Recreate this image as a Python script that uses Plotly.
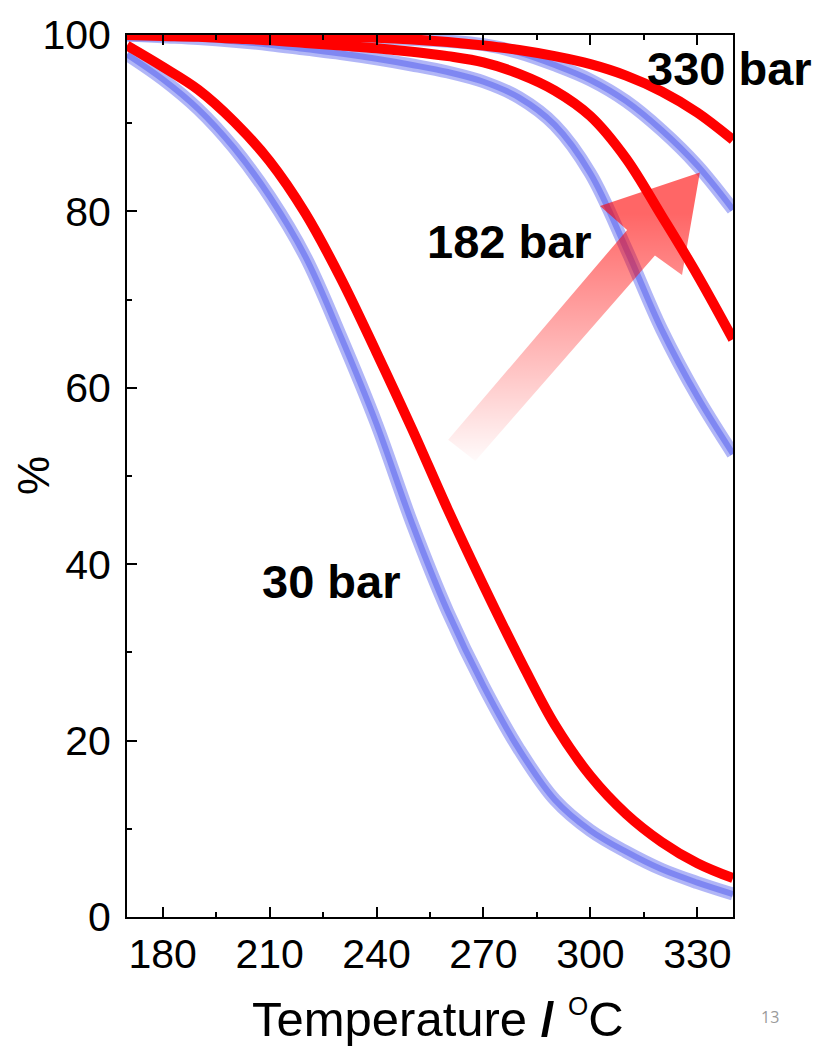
import plotly.graph_objects as go

# ---------------- data ----------------
T_GRID = [170, 180, 190, 200, 210, 220, 230, 240, 250, 260, 270, 280, 290, 300, 310, 320, 330, 340]

V_RED_30 = [98.8, 96.4, 93.8, 90.2, 85.7, 79.8, 72.4, 64.0, 55.3, 46.2, 37.6, 29.4, 21.8, 16.0, 11.7, 8.5, 6.1, 4.4]
V_BLUE_30 = [97.8, 95.0, 91.6, 87.2, 81.7, 74.9, 65.8, 55.9, 44.6, 34.6, 26.2, 19.0, 13.3, 9.8, 7.4, 5.4, 3.9, 2.6]

V_RED_182 = [100, 99.9, 99.8, 99.6, 99.4, 99.1, 98.8, 98.5, 98.1, 97.6, 96.9, 95.6, 93.7, 90.8, 86.0, 79.5, 72.8, 65.5]
V_BLUE_182 = [100, 99.8, 99.6, 99.3, 98.9, 98.4, 97.9, 97.3, 96.6, 95.8, 94.7, 92.9, 89.8, 84.3, 75.8, 66.6, 59.0, 52.5]

V_RED_330 = [100, 100, 100, 100, 99.95, 99.9, 99.8, 99.7, 99.5, 99.2, 98.8, 98.3, 97.6, 96.7, 95.4, 93.6, 91.2, 88.1]
V_BLUE_330 = [100, 100, 100, 99.9, 99.85, 99.8, 99.7, 99.6, 99.5, 99.3, 98.9, 98.0, 96.6, 94.9, 92.5, 89.2, 85.2, 80.2]

X_TICKS = [180, 210, 240, 270, 300, 330]
Y_TICKS = [0, 20, 40, 60, 80, 100]

LABELS = ["30 bar", "182 bar", "330 bar"]
LABEL_T = [227.3, 277.2, 338.9]
LABEL_V = [38.0, 76.6, 96.2]

# arrow outline (data coordinates): tail -> shaft -> head -> back
ARROW_T = [260.1, 267.7, 318.1, 325.7, 330.7, 302.7, 310.3, 260.1]
ARROW_V = [54.1, 51.7, 75.0, 72.8, 84.4, 80.6, 77.9, 54.1]

FONT = "Liberation Sans, Arial, sans-serif"

fig = go.Figure()

blue_sets = [V_BLUE_30, V_BLUE_182, V_BLUE_330]
red_sets = [V_RED_30, V_RED_182, V_RED_330]

for v in blue_sets:
    fig.add_trace(go.Scatter(x=T_GRID, y=v, mode="lines",
                             line=dict(color="rgba(100,110,240,0.5)", width=13, shape="spline", smoothing=1.0),
                             hoverinfo="skip", showlegend=False, cliponaxis=False))
    fig.add_trace(go.Scatter(x=T_GRID, y=v, mode="lines",
                             line=dict(color="rgba(100,110,240,0.65)", width=6, shape="spline", smoothing=1.0),
                             hoverinfo="skip", showlegend=False, cliponaxis=False))

for v in red_sets:
    fig.add_trace(go.Scatter(x=T_GRID, y=v, mode="lines",
                             line=dict(color="#ff0000", width=10, shape="spline", smoothing=1.0),
                             hoverinfo="skip", showlegend=False, cliponaxis=False))

# gradient arrow
fig.add_trace(go.Scatter(x=ARROW_T, y=ARROW_V, mode="lines", fill="toself",
                         line=dict(width=0, color="rgba(0,0,0,0)"),
                         fillgradient=dict(type="vertical",
                                           colorscale=[[0, "rgba(255,0,0,0)"], [1, "rgba(255,0,0,0.6)"]],
                                           start=51.5, stop=80),
                         hoverinfo="skip", showlegend=False))

annotations = []
for txt, t, v in zip(LABELS, LABEL_T, LABEL_V):
    annotations.append(dict(x=t, y=v, xref="x", yref="y", text="<b>%s</b>" % txt, showarrow=False,
                            font=dict(family=FONT, size=47, color="black"),
                            xanchor="center", yanchor="middle"))

# axis titles
annotations.append(dict(x=0.5, y=0, xref="paper", yref="paper", xshift=8, yshift=-101,
                        text='Temperature <b>/</b> <sup><span style="font-size:26px">O</span></sup>C',
                        showarrow=False, font=dict(family=FONT, size=49, color="black"),
                        xanchor="center", yanchor="middle"))
annotations.append(dict(x=0, y=0.5, xref="paper", yref="paper", xshift=-94,
                        text="%", textangle=-90, showarrow=False,
                        font=dict(family=FONT, size=44, color="black"),
                        xanchor="center", yanchor="middle"))
# page number
annotations.append(dict(x=1, y=0, xref="paper", yref="paper", xshift=37, yshift=-100,
                        text="13", showarrow=False,
                        font=dict(family="Liberation Sans Narrow, Open Sans, sans-serif", size=16, color="#9a9a9a"),
                        xanchor="center", yanchor="middle"))

fig.update_layout(
    width=817, height=1047,
    margin=dict(l=127, r=84, t=23, b=130),
    paper_bgcolor="white", plot_bgcolor="white",
    showlegend=False,
    annotations=annotations,
    xaxis=dict(range=[170, 340], tickmode="array", tickvals=X_TICKS,
               ticks="inside", ticklen=10, tickwidth=2, tickcolor="black",
               showline=True, linecolor="black", linewidth=2, mirror="ticks",
               showgrid=False, zeroline=False,
               tickfont=dict(family=FONT, size=41, color="black"),
               minor=dict(tickvals=[195, 225, 255, 285, 315], ticks="inside", ticklen=5, tickwidth=2, tickcolor="black")),
    yaxis=dict(range=[0, 100], tickmode="array", tickvals=Y_TICKS,
               ticks="inside", ticklen=10, tickwidth=2, tickcolor="black",
               showline=True, linecolor="black", linewidth=2, mirror=True,
               showgrid=False, zeroline=False, ticklabelstandoff=6,
               tickfont=dict(family=FONT, size=41, color="black"),
               minor=dict(tickvals=[10, 30, 50, 70, 90], ticks="inside", ticklen=5, tickwidth=2, tickcolor="black")),
)

fig.write_html("out.html")
